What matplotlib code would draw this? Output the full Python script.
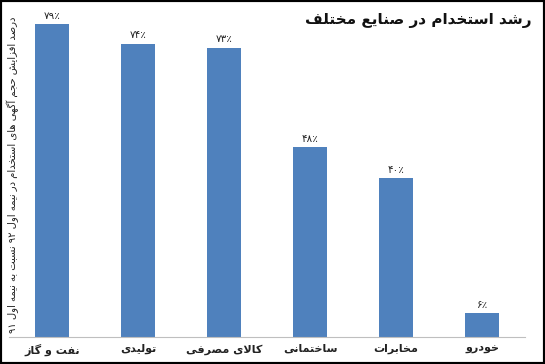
import re
import matplotlib
matplotlib.use('Agg')
import matplotlib.pyplot as plt
from matplotlib.patches import Rectangle

# Data
categories = ['نفت و گاز', 'تولیدی', 'کالای مصرفی', 'ساختمانی', 'مخابرات', 'خودرو']
values = [79, 74, 73, 48, 40, 6]
title = 'رشد استخدام در صنایع مختلف'
ylabel = 'درصد افزایش حجم آگهی های استخدام در نیمه اول ۹۲ نسبت به نیمه اول ۹۱'

# Arabic/Persian presentation forms: (isolated, final, initial, medial)
FORMS = {
    'ا': ('\uFE8D', '\uFE8E', None, None),
    'آ': ('\uFE81', '\uFE82', None, None),
    'ب': ('\uFE8F', '\uFE90', '\uFE91', '\uFE92'),
    'پ': ('\uFB56', '\uFB57', '\uFB58', '\uFB59'),
    'ت': ('\uFE95', '\uFE96', '\uFE97', '\uFE98'),
    'ث': ('\uFE99', '\uFE9A', '\uFE9B', '\uFE9C'),
    'ج': ('\uFE9D', '\uFE9E', '\uFE9F', '\uFEA0'),
    'چ': ('\uFB7A', '\uFB7B', '\uFB7C', '\uFB7D'),
    'ح': ('\uFEA1', '\uFEA2', '\uFEA3', '\uFEA4'),
    'خ': ('\uFEA5', '\uFEA6', '\uFEA7', '\uFEA8'),
    'د': ('\uFEA9', '\uFEAA', None, None),
    'ذ': ('\uFEAB', '\uFEAC', None, None),
    'ر': ('\uFEAD', '\uFEAE', None, None),
    'ز': ('\uFEAF', '\uFEB0', None, None),
    'ژ': ('\uFB8A', '\uFB8B', None, None),
    'س': ('\uFEB1', '\uFEB2', '\uFEB3', '\uFEB4'),
    'ش': ('\uFEB5', '\uFEB6', '\uFEB7', '\uFEB8'),
    'ص': ('\uFEB9', '\uFEBA', '\uFEBB', '\uFEBC'),
    'ض': ('\uFEBD', '\uFEBE', '\uFEBF', '\uFEC0'),
    'ط': ('\uFEC1', '\uFEC2', '\uFEC3', '\uFEC4'),
    'ظ': ('\uFEC5', '\uFEC6', '\uFEC7', '\uFEC8'),
    'ع': ('\uFEC9', '\uFECA', '\uFECB', '\uFECC'),
    'غ': ('\uFECD', '\uFECE', '\uFECF', '\uFED0'),
    'ف': ('\uFED1', '\uFED2', '\uFED3', '\uFED4'),
    'ق': ('\uFED5', '\uFED6', '\uFED7', '\uFED8'),
    'ک': ('\uFB8E', '\uFB8F', '\uFB90', '\uFB91'),
    'گ': ('\uFB92', '\uFB93', '\uFB94', '\uFB95'),
    'ل': ('\uFEDD', '\uFEDE', '\uFEDF', '\uFEE0'),
    'م': ('\uFEE1', '\uFEE2', '\uFEE3', '\uFEE4'),
    'ن': ('\uFEE5', '\uFEE6', '\uFEE7', '\uFEE8'),
    'و': ('\uFEED', '\uFEEE', None, None),
    'ه': ('\uFEE9', '\uFEEA', '\uFEEB', '\uFEEC'),
    'ی': ('\uFBFC', '\uFBFD', '\uFBFE', '\uFBFF'),
}


def fa(s):
    # shape letters, then put them in visual (left-to-right) order
    out = []
    i = 0
    link = False
    while i < len(s):
        c = s[i]
        nxt = s[i + 1] if i + 1 < len(s) else ''
        if c == 'ل' and nxt == 'ا':
            out.append('\uFEFC' if link else '\uFEFB')
            link = False
            i += 2
            continue
        if c not in FORMS:
            out.append(c)
            link = False
            i += 1
            continue
        iso, fin, ini, med = FORMS[c]
        joins_next = ini is not None and nxt in FORMS
        if link and joins_next:
            out.append(med)
        elif link:
            out.append(fin)
        elif joins_next:
            out.append(ini)
        else:
            out.append(iso)
        link = ini is not None
        i += 1
    parts = re.findall(r'[0-9\u06F0-\u06F9]+|[^0-9\u06F0-\u06F9]', ''.join(out))
    return ''.join(reversed(parts))


def fa_num(v):
    return str(v).translate(str.maketrans('0123456789', '۰۱۲۳۴۵۶۷۸۹')) + '٪'


plt.rcParams['font.family'] = ['DejaVu Sans']

fig = plt.figure(figsize=(5.45, 3.64), dpi=100)
ax = fig.add_axes([0.0165, 0.074, 0.947, 0.915])

x = range(len(categories))
ax.bar(x, values, width=0.4, color='#4F81BD')

for xi, v in zip(x, values):
    ax.text(xi, v + 0.8, fa_num(v), ha='center', va='bottom', fontsize=7.5, color='#222222')

ax.set_xlim(-0.5, 5.5)
ax.set_ylim(0, 84)
ax.set_xticks(list(x))
ax.set_xticklabels([fa(c) for c in categories], fontsize=8, fontweight='bold', color='#222222')
ax.tick_params(axis='x', length=0, pad=5)
ax.set_yticks([])
for side in ['top', 'right', 'left']:
    ax.spines[side].set_visible(False)
ax.spines['bottom'].set_color('#BFBFBF')

# Titles
fig.text(0.976, 0.945, fa(title), ha='right', va='center', fontsize=11, fontweight='bold', color='#111111')
fig.text(0.024, 0.52, fa(ylabel), ha='center', va='center', rotation=90, fontsize=7.2, color='#222222')

# outer frame
fig.patches.append(Rectangle((0, 0), 1, 1, transform=fig.transFigure, fill=False,
                             edgecolor='black', linewidth=3))

fig.savefig('out.png', dpi=100)
